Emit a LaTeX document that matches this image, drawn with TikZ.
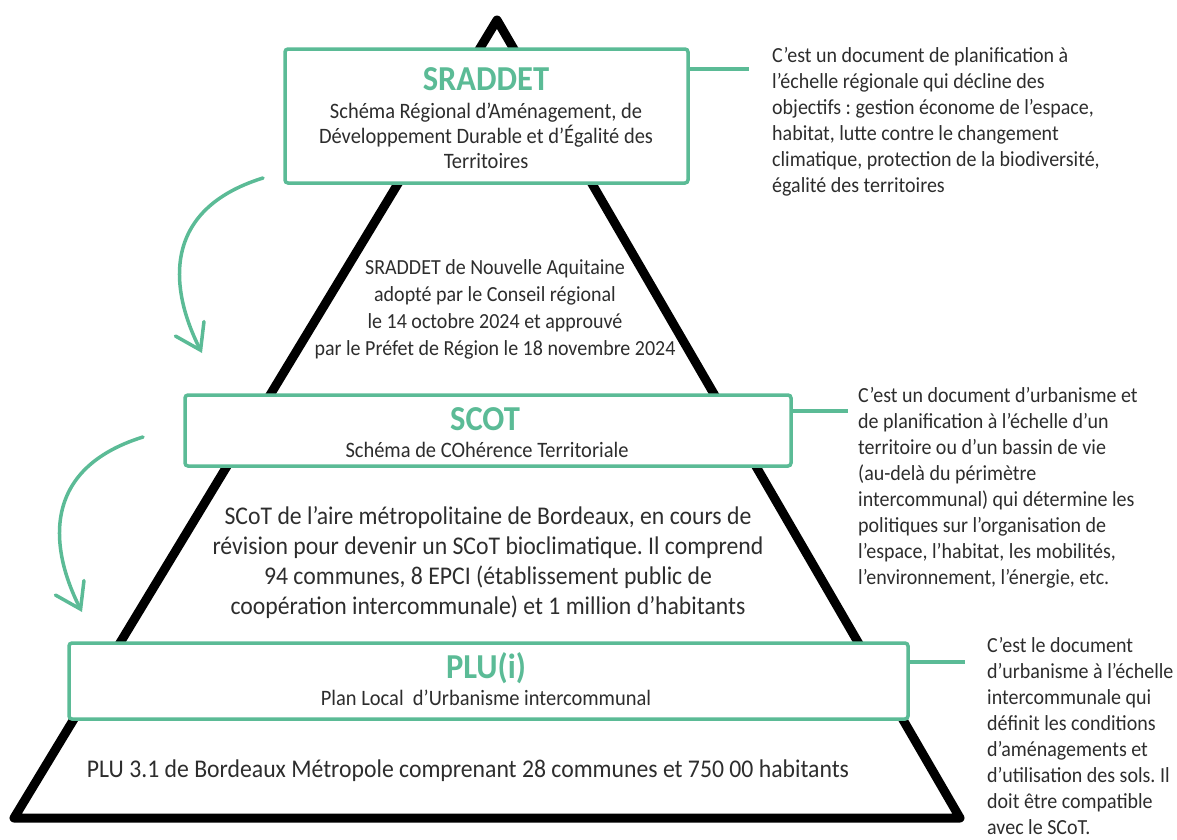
\documentclass[tikz,border=0pt]{standalone}
\usepackage{fontspec}
\setmainfont{Carlito}[FakeStretch=0.93]
\usetikzlibrary{arrows.meta}
\definecolor{vert}{RGB}{91,187,150}
\definecolor{txt}{RGB}{45,45,45}
\frenchspacing
\begin{document}
\begin{tikzpicture}[x=1pt,y=-1pt,
  pyr/.style={line width=9pt, line join=round, draw=black},
  boite/.style={draw=vert, line width=3.5pt, fill=white, rounded corners=3pt, inner sep=0pt},
  titre/.style={text=vert, font=\fontsize{35}{40}\selectfont\bfseries, inner sep=0pt, anchor=base},
  stitre/.style={text=txt, font=\fontsize{22}{25}\selectfont\frenchspacing, align=center, inner sep=0pt},
  corps/.style={text=txt, font=\fontsize{21.5}{27}\selectfont\frenchspacing, align=center, inner sep=0pt},
  desc/.style={text=txt, font=\fontsize{21.5}{26}\selectfont\frenchspacing, align=left, inner sep=0pt, anchor=north west},
  lien/.style={draw=vert, line width=3.5pt},
  fleche/.style={draw=vert, line width=3.5pt, line cap=round, -{Straight Barb[length=24pt, width=32pt, line cap=round]}}
]
\useasboundingbox (0,0) rectangle (1177,839);
% pyramid
\draw[pyr] (497,20) -- (960,818) -- (14,818) -- cycle;
% boxes
\node[boite, minimum width=403pt, minimum height=134pt] (sraddet) at (486.5,116) {};
\node[boite, minimum width=606pt, minimum height=71pt] (scot) at (488,430.5) {};
\node[boite, minimum width=839pt, minimum height=76pt] (plu) at (488.5,681) {};
% titles
\node[titre] (sraddetT) at (486,90) {SRADDET};
\node[stitre, anchor=north] (sraddetS) at (486,97) {\rule{0pt}{21pt}Schéma Régional d’Aménagement, de\\Développement Durable et d’Égalité des\\Territoires};
\node[titre] (scotT) at (485,430) {SCOT};
\node[stitre, anchor=base] (scotS) at (487,457) {Schéma de COhérence Territoriale};
\node[titre] (pluT) at (486,678) {PLU(i)};
\node[stitre, anchor=base] (pluS) at (486,705) {Plan Local\ \ d’Urbanisme intercommunal};
% body texts
\node[corps, anchor=north] (sraddetB) at (495,254) {\rule{0pt}{20pt}SRADDET de Nouvelle Aquitaine\\adopté par le Conseil régional\\le 14 octobre 2024 et approuvé\\par le Préfet de Région le 18 novembre 2024};
\node[corps, font=\fontsize{25.5}{30}\selectfont\frenchspacing, anchor=north] (scotB) at (488,500) {\rule{0pt}{24pt}SCoT de l’aire métropolitaine de Bordeaux, en cours de\\révision pour devenir un SCoT bioclimatique. Il comprend\\94 communes, 8 EPCI (établissement public de\\coopération intercommunale) et 1 million d’habitants};
\node[corps, font=\fontsize{25.5}{30}\selectfont, anchor=base] (pluB) at (468,777) {PLU 3.1 de Bordeaux Métropole comprenant 28 communes et 750 00 habitants};
% descriptions
\node[desc] (d1) at (772,42) {\rule{0pt}{20pt}C’est un document de planification à\\l’échelle régionale qui décline des\\objectifs : gestion économe de l’espace,\\habitat, lutte contre le changement\\climatique, protection de la biodiversité,\\égalité des territoires};
\node[desc] (d2) at (858,382) {\rule{0pt}{20pt}C’est un document d’urbanisme et\\de planification à l’échelle d’un\\territoire ou d’un bassin de vie\\(au-delà du périmètre\\intercommunal) qui détermine les\\politiques sur l’organisation de\\l’espace, l’habitat, les mobilités,\\l’environnement, l’énergie, etc.};
\node[desc] (d3) at (987,632) {\rule{0pt}{20pt}C’est le document\\d’urbanisme à l’échelle\\intercommunale qui\\définit les conditions\\d’aménagements et\\d’utilisation des sols. Il\\doit être compatible\\avec le SCoT.};
% connectors
\coordinate (c1) at (749,69);
\coordinate (c2) at (848,411);
\coordinate (c3) at (965,662);
\draw[lien] (sraddet.east |- c1) -- (c1);
\draw[lien] (scot.east |- c2) -- (c2);
\draw[lien] (plu.east |- c3) -- (c3);
% arrows
\coordinate (a1s) at (263,178);
\coordinate (a1e) at (202,353);
\coordinate (a2s) at (143,437);
\coordinate (a2e) at (82,612);
\draw[fleche] (a1s) .. controls (160,210) and (170,290) .. (a1e);
\draw[fleche] (a2s) .. controls (40,469) and (50,549) .. (a2e);
\end{tikzpicture}
\end{document}
